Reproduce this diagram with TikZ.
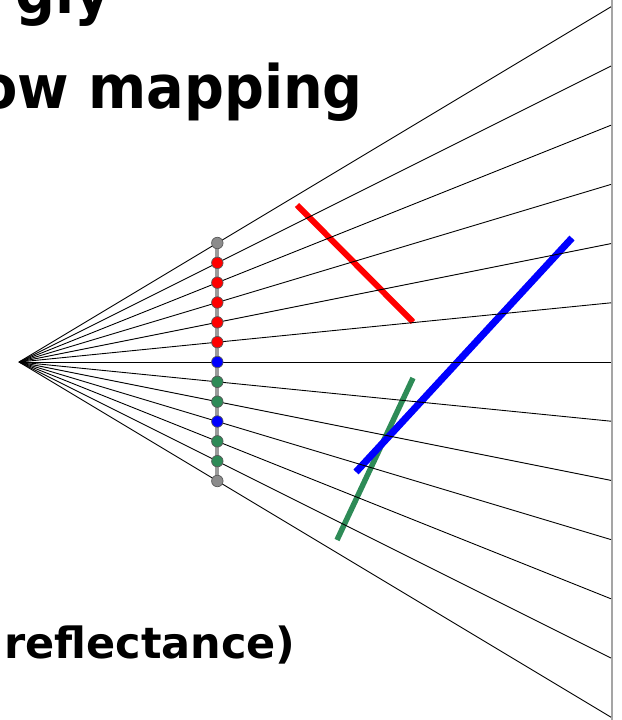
\documentclass[tikz,border=0pt]{standalone}
\usepackage{fontspec}
\setmainfont{DejaVu Sans}
\newfontface\headfont[FakeStretch=0.93]{DejaVu Sans Bold}
\definecolor{seagreen}{RGB}{46,139,87}
\definecolor{dotgray}{RGB}{140,140,140}
\definecolor{planegray}{RGB}{155,155,155}
\definecolor{screengray}{RGB}{165,165,165}
\usetikzlibrary{calc}

\begin{document}
\begin{tikzpicture}[x=1pt, y=-1pt,
    ray/.style={line width=0.9pt, black},
    sample/.style={circle, draw=black!65, line width=0.7pt, minimum size=11.5pt, inner sep=0pt},
    surface/.style={line width=6pt},
    headline/.style={font=\fontsize{60pt}{64pt}\headfont, inner sep=0pt}]
    \useasboundingbox (0,0) rectangle (621,720);

    % slide text, cut at the edges
    \node[headline, anchor=base east] (top) at (111,13) {gly};
    \node[headline, anchor=base east] (head) at (363,108) {ow mapping};
    \node[font=\fontsize{43pt}{48pt}\selectfont\bfseries, inner sep=0pt,
          anchor=base west] (foot) at (4,658) {reflectance)};

    % screen
    \coordinate (scrtop) at (612,0);
    \coordinate (scrbot) at (612,720);
    \draw[screengray, line width=2.5pt] (scrtop) -- (scrbot);

    % surfaces in the scene
    \coordinate (r1) at (297,205);
    \coordinate (r2) at (413,322);
    \coordinate (g1) at (413,378);
    \coordinate (g2) at (337,540);
    \coordinate (b1) at (572,238);
    \coordinate (b2) at (356,472);
    \draw[red, surface] (r1) -- (r2);
    \draw[seagreen, surface, line width=5.5pt] (g1) -- (g2);
    \draw[blue, surface, line width=7pt] (b1) -- (b2);

    % rays from the eye
    \coordinate (apex) at (19,362);
    \foreach \k in {0,...,12} {
        \coordinate (s\k) at (611,{362+(\k-6)*59.2});
        \draw[ray] (apex) -- (s\k);
        \coordinate (p\k) at ($(apex)!0.335!(s\k)$);
    }

    % image plane and samples
    \draw[planegray, line width=4pt] (p0) -- (p12);
    \foreach \k/\c in {0/dotgray, 1/red, 2/red, 3/red, 4/red, 5/red, 6/blue,
                       7/seagreen, 8/seagreen, 9/blue, 10/seagreen, 11/seagreen, 12/dotgray}
        \node[sample, fill=\c] (d\k) at (p\k) {};
\end{tikzpicture}
\end{document}
